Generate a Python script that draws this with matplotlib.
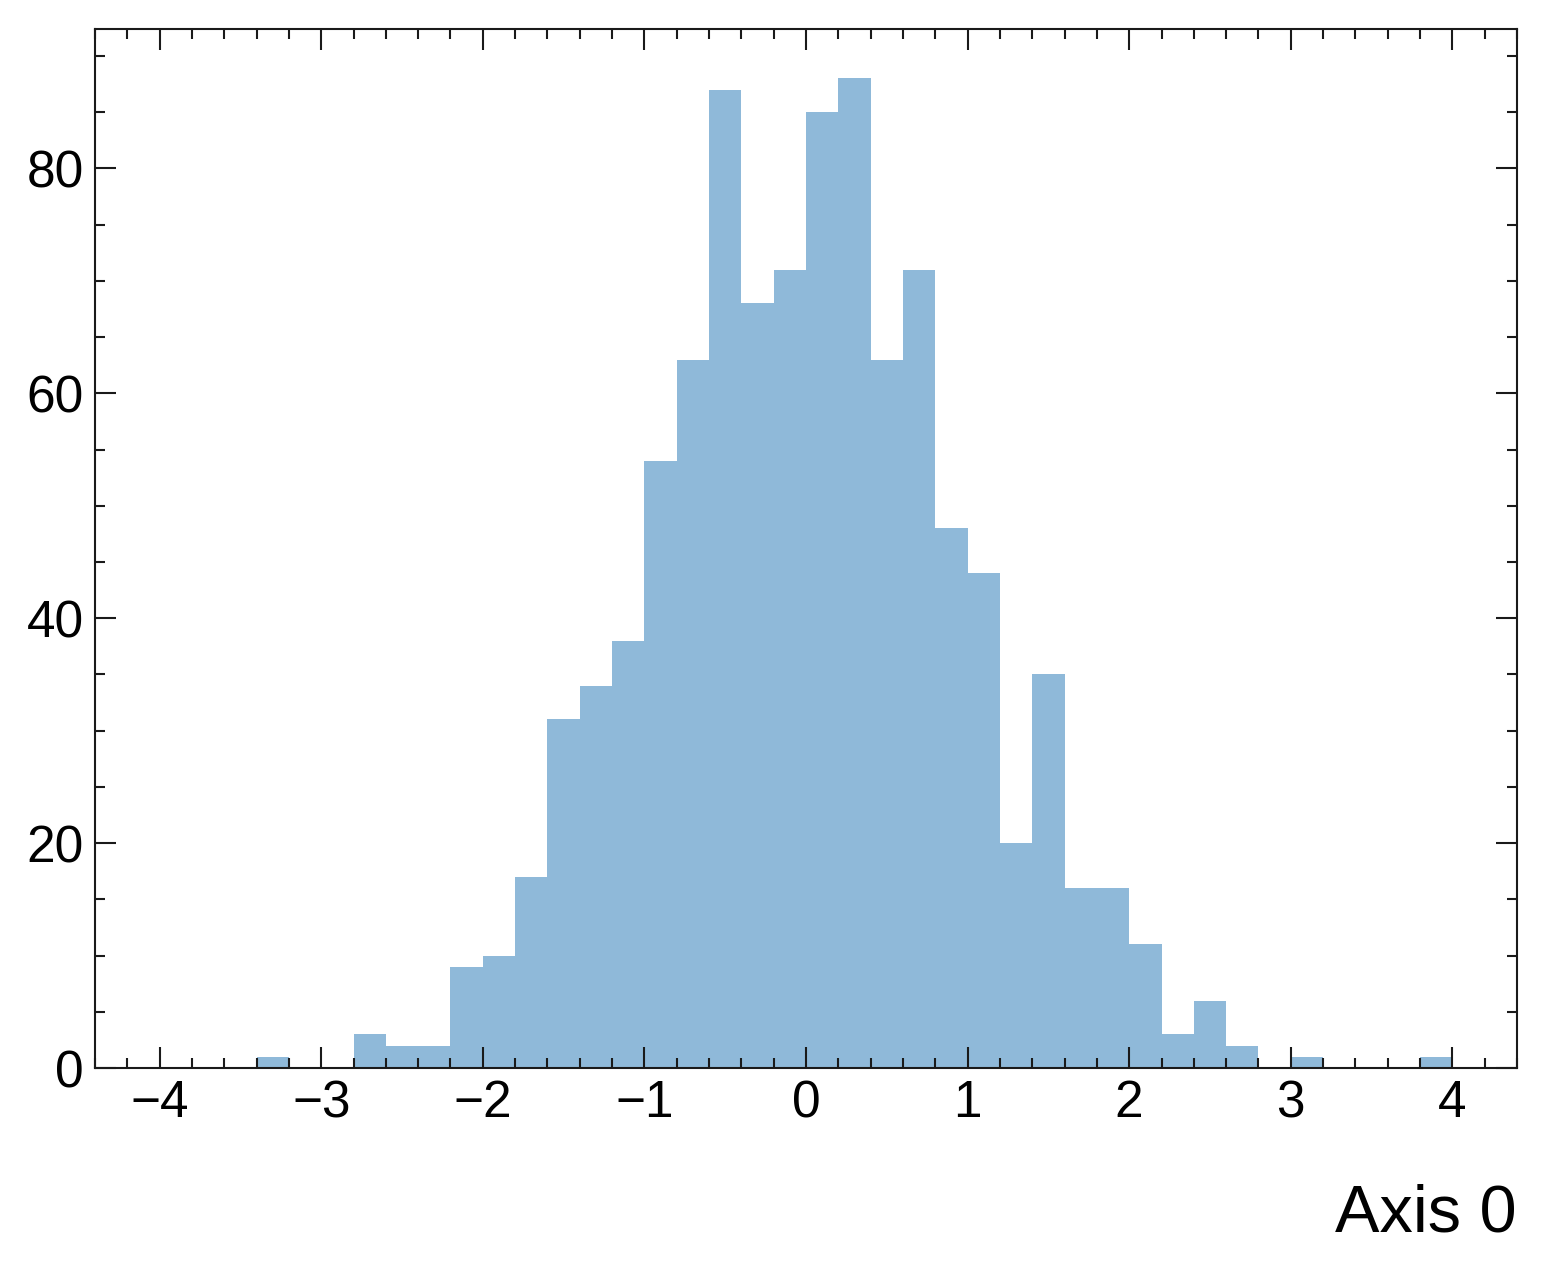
import matplotlib
matplotlib.use("Agg")
import matplotlib.pyplot as plt
import numpy as np
from matplotlib.ticker import MultipleLocator

bin_edges = np.round(np.arange(-4.0, 4.0001, 0.2), 10)
counts = [0, 0, 0, 1, 0, 0, 3, 2, 2, 9,
          10, 17, 31, 34, 38, 54, 63, 87, 68, 71,
          85, 88, 63, 71, 48, 44, 20, 35, 16, 16,
          11, 3, 6, 2, 0, 1, 0, 0, 0, 1]
xlabel = "Axis 0"

plt.rcParams['font.family'] = ['Liberation Sans', 'DejaVu Sans']
fig = plt.figure(figsize=(15.47, 12.75), dpi=100)
ax = fig.add_axes([95/1547, 1 - 1068/1275, (1517-95)/1547, (1068-29)/1275])

ax.stairs(counts, bin_edges, fill=True, color='#8fb9d9', linewidth=0)

ax.set_xlim(-4.4, 4.4)
ax.set_ylim(0, max(counts) * 1.05)
ax.xaxis.set_major_locator(MultipleLocator(1))
ax.xaxis.set_minor_locator(MultipleLocator(0.2))
ax.yaxis.set_major_locator(MultipleLocator(20))
ax.yaxis.set_minor_locator(MultipleLocator(5))
ax.tick_params(which='both', direction='in', top=True, right=True, width=1.5, labelsize=37, color='#1a1a1a')
ax.tick_params(which='major', length=15, pad=8)
ax.tick_params(which='minor', length=7.5)
for s in ax.spines.values():
    s.set_linewidth(1.5)
    s.set_color('#1a1a1a')
ax.set_xlabel(xlabel, loc='right', fontsize=48, labelpad=40)

fig.savefig("out.png", dpi=100)
